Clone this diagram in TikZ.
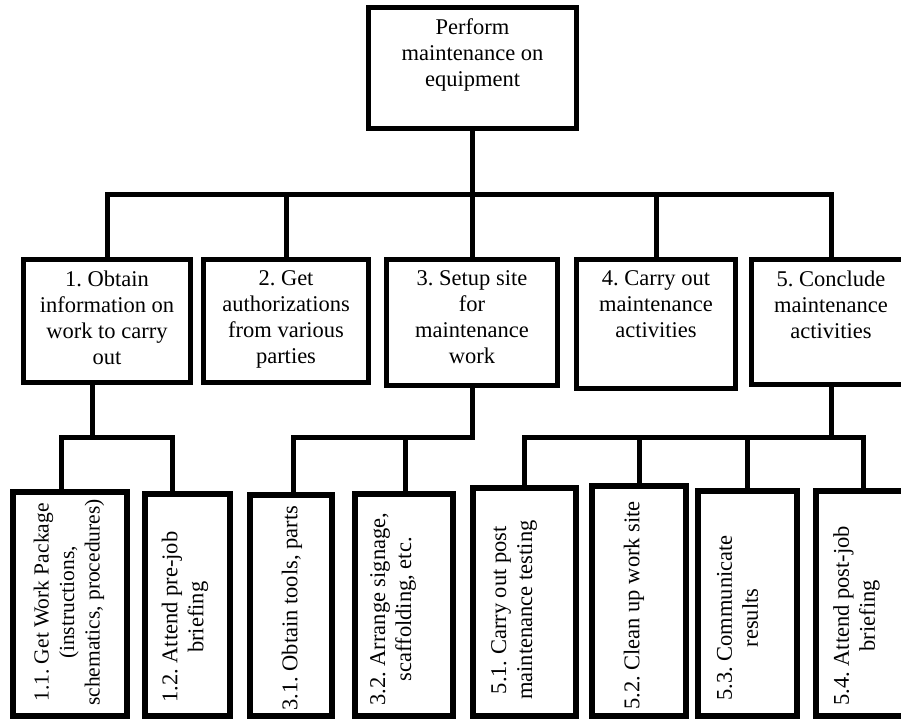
\documentclass[tikz,border=0pt]{standalone}
\usepackage{fontspec}
\setmainfont{Liberation Serif}
\frenchspacing
\begin{document}
\begin{tikzpicture}[x=1pt,y=-1pt,
  box/.style 2 args={draw=black, line width=5pt, inner sep=0pt, minimum width=#1pt, minimum height=#2pt},
  sbox/.style 2 args={draw=black, line width=6pt, inner sep=0pt, minimum width=#1pt, minimum height=#2pt},
  conn/.style={draw=black, line width=5pt, line join=miter},
  txt/.style={inner sep=0pt, align=center, anchor=north, yshift=-13.5pt, font=\fontsize{22.5}{26}\selectfont},
  vtxt/.style={inner sep=0pt, align=center, anchor=west, rotate=90, font=\fontsize{22.5}{26}\selectfont},
  small/.style={font=\fontsize{21.5}{25.5}\selectfont}]
\useasboundingbox (0,0) rectangle (901,719);
\clip (0,0) rectangle (901,719);
% bus coordinates
\coordinate (busA) at (0,194.5);
\coordinate (busB) at (0,437.5);
% top box
\node[box={208}{121}] (top) at (472.5,68) {};
% level 1
\node[box={167}{123}] (b1) at (107,321) {};
\node[box={165}{123}] (b2) at (286,321) {};
\node[box={171}{126}] (b3) at (472,322.5) {};
\node[box={159}{129}] (b4) at (656,324) {};
\node[box={160}{125}] (b5) at (831,322) {};
% level 2
\node[sbox={114}{224}] (c11) at (70,604) {};
\node[sbox={85}{222}] (c12) at (187.5,605) {};
\node[sbox={82}{221}] (c31) at (291,605.5) {};
\node[sbox={98}{222}] (c32) at (404,605) {};
\node[sbox={103}{228}] (c51) at (524.5,602) {};
\node[sbox={94}{230}] (c52) at (639,601) {};
\node[sbox={99}{225}] (c53) at (747.5,603.5) {};
\node[sbox={94}{225}] (c54) at (863,603.5) {};
% connectors level 0-1
\draw[conn] (top.south) -- (top.south |- busA);
\draw[conn] (b1.north) -- (b1.north |- busA) -- (b5.north |- busA) -- (b5.north);
\draw[conn] (b2.north) -- (b2.north |- busA);
\draw[conn] (b3.north) -- (b3.north |- busA);
\draw[conn] (b4.north) -- (b4.north |- busA);
% connectors level 1-2
\draw[conn] ([xshift=-15pt]b1.south) -- ([xshift=-15pt]b1.south |- busB);
\draw[conn] ([xshift=-9pt]c11.north) -- ([xshift=-9pt]c11.north |- busB) -- ([xshift=-15pt]c12.north |- busB) -- ([xshift=-15pt]c12.north);
\draw[conn] ([xshift=2pt]c31.north) -- ([xshift=2pt]c31.north |- busB) -- (b3.south |- busB) -- (b3.south);
\draw[conn] ([xshift=1pt]c32.north) -- ([xshift=1pt]c32.north |- busB);
\draw[conn] (b5.south) -- ([yshift=0.5pt]b5.south |- busB);
\draw[conn] (c51.north) -- ([yshift=0.5pt]c51.north |- busB) -- ([yshift=0.5pt]c54.north |- busB) -- (c54.north);
\draw[conn] (c52.north) -- ([yshift=0.5pt]c52.north |- busB);
\draw[conn] (c53.north) -- ([yshift=0.5pt]c53.north |- busB);
% texts
\node[txt] (t0) at (top.north) {Perform\\maintenance on\\equipment};
\node[txt] (t1) at (b1.north) {1. Obtain\\information on\\work to carry\\out};
\node[txt] (t2) at (b2.north) {2. Get\\authorizations\\from various\\parties};
\node[txt] (t3) at (b3.north) {3. Setup site\\for\\maintenance\\work};
\node[txt] (t4) at (b4.north) {4. Carry out\\maintenance\\activities};
\node[txt] (t5) at (b5.north) {5. Conclude\\maintenance\\activities};
\node[vtxt,small] (t11) at ([xshift=-1pt,yshift=13pt]c11.south) {1.1. Get Work Package\\(instructions,\\schematics, procedures)};
\node[vtxt] (t12) at ([xshift=-2.5pt,yshift=16pt]c12.south) {1.2. Attend pre-job\\briefing};
\node[vtxt] (t31) at ([xshift=1pt,yshift=8pt]c31.south) {3.1. Obtain tools, parts};
\node[vtxt] (t32) at ([xshift=-11pt,yshift=13pt]c32.south) {3.2. Arrange signage,\\scaffolding, etc.};
\node[vtxt] (t51) at ([xshift=-10.5pt,yshift=19pt]c51.south) {5.1. Carry out post\\maintenance testing};
\node[vtxt] (t52) at ([xshift=-5pt,yshift=9pt]c52.south) {5.2. Clean up work site};
\node[vtxt] (t53) at ([xshift=-10pt,yshift=18pt]c53.south) {5.3. Communicate\\results};
\node[vtxt] (t54) at ([xshift=-6.5pt,yshift=13pt]c54.south) {5.4. Attend post-job\\briefing};
\end{tikzpicture}
\end{document}
